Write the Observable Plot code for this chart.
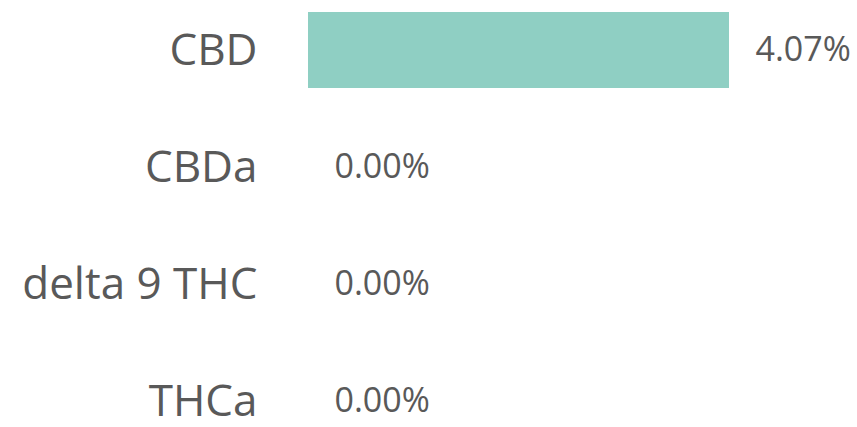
<!DOCTYPE html>
<html>
<head>
<meta charset="utf-8">
<script src="https://cdn.jsdelivr.net/npm/d3@7"></script>
<script src="https://cdn.jsdelivr.net/npm/@observablehq/plot@0.6"></script>
<style>
  html, body { margin: 0; padding: 0; background: #fff; }
  #chart svg { display: block; }
</style>
</head>
<body>
<div id="chart"></div>
<script>
const categories = ["CBD", "CBDa", "delta 9 THC", "THCa"];
const values = [4.07, 0.00, 0.00, 0.00];
const valueLabels = ["4.07%", "0.00%", "0.00%", "0.00%"];

const data = categories.map((c, i) => ({category: c, value: values[i], label: valueLabels[i]}));

const chart = Plot.plot({
  width: 857,
  height: 427,
  marginLeft: 0,
  marginRight: 0,
  marginTop: 0,
  marginBottom: 0,
  style: {fontFamily: "'Open Sans', sans-serif", color: "#595959", background: "#fff"},
  x: {domain: [0, 4.07], range: [308, 729], axis: null},
  y: {domain: categories, range: [12, 440], paddingInner: 0.35, paddingOuter: 0, axis: null},
  marks: [
    Plot.barX(data, {x: "value", y: "category", fill: "#8fcfc3"}),
    Plot.text(data, {x: 0, y: "category", text: "category", textAnchor: "end", dx: -51, fontSize: 44, fill: "#595959"}),
    Plot.text(data, {x: "value", y: "category", text: "label", textAnchor: "start", dx: 26, fontSize: 34, fill: "#595959"})
  ]
});
document.getElementById("chart").appendChild(chart);
</script>
</body>
</html>
